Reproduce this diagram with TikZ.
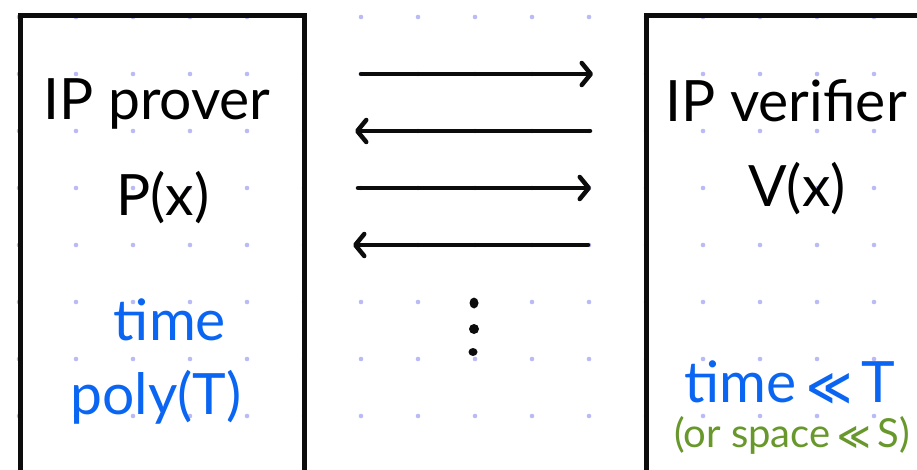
\documentclass[tikz,border=0pt]{standalone}
\usepackage{fontspec}
\setmainfont{Lato}
\newfontfamily\symfont{DejaVu Sans}
\usetikzlibrary{arrows.meta}
\definecolor{ink}{RGB}{12,12,12}
\definecolor{penblue}{RGB}{10,102,242}
\definecolor{pengreen}{RGB}{104,152,44}
\definecolor{griddot}{RGB}{186,186,246}
\newcommand{\muchless}{{\symfont\bfseries ≪}}

\begin{document}
\begin{tikzpicture}[x=1pt,y=-1pt,
  party/.style={draw=ink, line width=5pt, rectangle, anchor=north west,
    inner sep=0pt, outer sep=0pt, minimum height=520pt},
  msg/.style={draw=ink, line width=4.5pt, line cap=round,
    -{Straight Barb[length=9pt,width=22pt,round]}},
  lbl/.style={anchor=base, inner sep=0pt, outer sep=0pt},
  big/.style={font=\fontsize{57}{60}\selectfont},
  small/.style={font=\fontsize{40}{44}\selectfont},
  dot/.style={fill=ink}]
\useasboundingbox (0,0) rectangle (917,470);
\clip (0,0) rectangle (917,470);

% dotted paper
\foreach \i in {0,...,16}
  \foreach \j in {0,...,8}
    \fill[griddot] (19+57*\i, 17+57*\j) circle (2.3pt);

% the two parties
\node[party, minimum width=284pt] (prover) at (20,16) {};
\node[party, minimum width=400pt] (verifier) at (646,16) {};

% prover labels
\node[lbl, big] (ptitle) at (157,120) {IP prover};
\node[lbl, big] (pname) at (163,215) {P(x)};
\node[lbl, big, text=penblue] (ptime) at (170,340) {time};
\node[lbl, big, text=penblue] (ppoly) at (156,414) {poly(T)};

% verifier labels
\node[lbl, big] (vtitle) at (786,122) {IP verifier};
\node[lbl, big] (vname) at (797,207) {V(x)};
\node[lbl, big, text=penblue] (vtime) at (790,402) {time\,{\fontsize{44}{44}\selectfont\muchless}\,T};
\node[lbl, small, text=pengreen] (vspace) at (792,447) {(or space\,{\fontsize{32}{32}\selectfont\muchless}\,S)};

% message rounds
\coordinate (m1a) at (361,74);  \coordinate (m1b) at (593,74);
\coordinate (m2a) at (590,131); \coordinate (m2b) at (355,131);
\coordinate (m3a) at (358,188); \coordinate (m3b) at (591,188);
\coordinate (m4a) at (588,245); \coordinate (m4b) at (353,245);
\draw[msg] (m1a) -- (m1b);
\draw[msg] (m2a) -- (m2b);
\draw[msg] (m3a) -- (m3b);
\draw[msg] (m4a) -- (m4b);

% vertical ellipsis
\fill[dot] (474,303) ellipse (4.5pt and 5.5pt);
\fill[dot] (474,329) ellipse (5pt and 5pt);
\fill[dot] (473,352) ellipse (4.5pt and 4pt);
\end{tikzpicture}
\end{document}
